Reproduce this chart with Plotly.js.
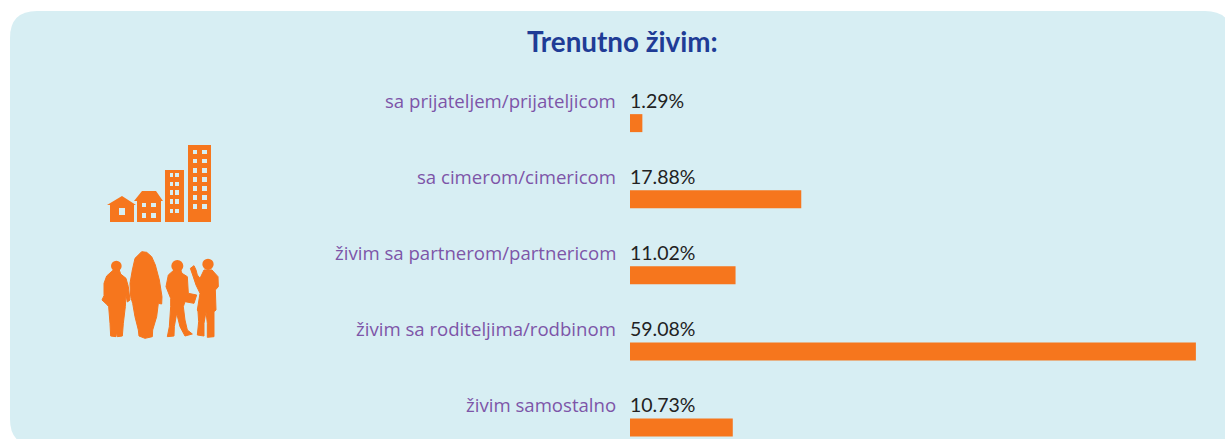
<!DOCTYPE html>
<html><head><meta charset="utf-8">
<script src="https://cdn.plot.ly/plotly-3.0.1.min.js"></script>
<style>html,body{margin:0;padding:0;background:#fff;overflow:hidden}#c{width:1225px;height:439px}</style>
</head><body><div id="c"></div>
<script>
var categories = ['sa prijateljem/prijateljicom','sa cimerom/cimericom','živim sa partnerom/partnericom','živim sa roditeljima/rodbinom','živim samostalno'];
var percents = [1.29,17.88,11.02,59.08,10.73];
var W=1225,H=439,ORANGE='#f6761d',PANEL='#d7eef3',PURPLE='#7d55a8',INK='#222222';

function px(x){return (x/W).toFixed(5);}
function py(y){return (1-y/H).toFixed(5);}
function P(x,y){return px(x)+','+py(y);}
function rect(x0,y0,x1,y1){return 'M'+P(x0,y0)+'L'+P(x1,y0)+'L'+P(x1,y1)+'L'+P(x0,y1)+'Z';}
function poly(a){return 'M'+a.map(function(p){return P(p[0],p[1]);}).join('L')+'Z';}
function zpoly(a){return poly(a.map(function(p){return [90+p[0]/3,130+p[1]/3];}));}
function shape(path,color,lw){return {type:'path',xref:'paper',yref:'paper',path:path,fillcolor:color,line:lw?{width:lw,color:color}:{width:0},layer:'below'};}
function circ(cx,cy,r){return {type:'circle',xref:'paper',yref:'paper',x0:(90+(cx-r)/3)/W,x1:(90+(cx+r)/3)/W,y0:1-(130+(cy+r)/3)/H,y1:1-(130+(cy-r)/3)/H,fillcolor:ORANGE,line:{width:0},layer:'below'};}

var L=10,T=11,R=1232,B=446,r=27;
var panel='M'+P(L+r,T)+'L'+P(R-r,T)+'Q'+P(R,T)+' '+P(R,T+r)+'L'+P(R,B-r)+'Q'+P(R,B)+' '+P(R-r,B)+'L'+P(L+r,B)+'Q'+P(L,B)+' '+P(L,B-r)+'L'+P(L,T+r)+'Q'+P(L,T)+' '+P(L+r,T)+'Z';
var shapes=[shape(panel,PANEL)];

/* decorative icons: buildings */
shapes.push(shape(poly([[122,196],[136,205],[134,205],[134,222],[110,222],[110,205],[107,205]]),ORANGE));
shapes.push(shape(poly([[142,191],[156,191],[163,201],[161,201],[161,222],[137,222],[137,201],[134,201]]),ORANGE));
shapes.push(shape(rect(165,170,184,222),ORANGE));
shapes.push(shape(rect(188,145,211,222),ORANGE));
var wins=[[119,208,125,215],[142,203,146,207],[151,203,156,207],[142,213,146,218],[151,213,156,218]];
[[173,177],[182,186],[190,195],[199,204],[209,213]].forEach(function(o){wins.push([170,o[0],173,o[1]]);wins.push([175,o[0],179,o[1]]);});
[[150,154],[159,163],[168,173],[177,182],[186,191],[195,200],[204,209]].forEach(function(o){wins.push([193,o[0],197,o[1]]);wins.push([202,o[0],207,o[1]]);});
wins.forEach(function(w){shapes.push(shape(rect(w[0],w[1],w[2],w[3]),PANEL));});

/* decorative icons: people */
shapes.push(circ(79,408,16));
shapes.push(shape(zpoly([[70,420],[88,420],[92,432],[108,445],[115,470],[120,510],[112,516],[108,495],[106,530],[100,580],[97,618],[82,620],[80,605],[78,620],[62,618],[60,580],[56,530],[52,525],[36,510],[42,497],[42,460],[50,438]]),ORANGE,1));
shapes.push(shape(zpoly([[155,365],[170,367],[185,380],[196,405],[208,450],[216,500],[215,522],[205,520],[200,560],[188,600],[187,620],[165,625],[147,618],[145,600],[135,560],[128,520],[122,500],[120,460],[127,420],[135,385]]),ORANGE,1));
shapes.push(circ(262,408,18));
shapes.push(shape(zpoly([[252,420],[272,420],[276,430],[292,440],[295,490],[320,495],[312,520],[285,515],[280,530],[285,570],[292,600],[307,612],[285,618],[270,590],[260,550],[253,590],[252,618],[232,620],[238,590],[242,530],[242,505],[228,470],[235,435]]),ORANGE,1));
shapes.push(circ(354,403,17));
shapes.push(shape(zpoly([[301,415],[312,407],[318,420],[322,435],[330,445],[342,420],[366,420],[384,440],[385,470],[376,480],[378,540],[372,545],[372,620],[352,622],[352,580],[348,545],[342,580],[342,618],[322,615],[326,575],[324,545],[322,540],[330,490],[318,465],[308,435]]),ORANGE,1));

var annotations=[];
categories.forEach(function(c,i){
  annotations.push({x:0,y:c,xref:'x',yref:'y',xanchor:'right',yanchor:'middle',xshift:-12,yshift:23,showarrow:false,text:c,font:{family:'"Open Sans",sans-serif',size:18.6,color:PURPLE}});
  annotations.push({x:0,y:c,xref:'x',yref:'y',xanchor:'left',yanchor:'middle',xshift:-2,yshift:23,showarrow:false,text:percents[i].toFixed(2)+'%',font:{family:'Lato,sans-serif',size:19.5,color:INK}});
});
annotations.push({xref:'paper',yref:'paper',x:622/W,y:1-41/H,xanchor:'center',yanchor:'middle',showarrow:false,text:'<b>Trenutno živim:</b>',font:{family:'Lato,sans-serif',size:27.8,color:'#1f3c96'}});

Plotly.newPlot('c',[{type:'bar',orientation:'h',y:categories,x:percents,width:0.2365,marker:{color:ORANGE},hoverinfo:'skip',cliponaxis:false}],{
  width:W,height:H,margin:{l:0,r:0,t:0,b:0,pad:0},
  paper_bgcolor:'#ffffff',plot_bgcolor:'rgba(0,0,0,0)',showlegend:false,
  xaxis:{domain:[630/W,1],range:[0,62.12],visible:false,fixedrange:true},
  yaxis:{type:'category',categoryorder:'array',categoryarray:categories,range:[4.151,-1.618],visible:false,fixedrange:true},
  shapes:shapes,annotations:annotations
},{displayModeBar:false,staticPlot:true});
</script></body></html>
